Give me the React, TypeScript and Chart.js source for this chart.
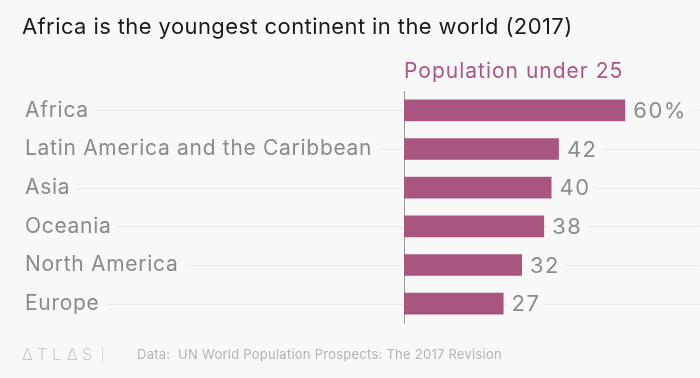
import React, { useEffect, useRef } from "react";
import { Chart, registerables } from "chart.js";

Chart.register(...registerables);

const categories = [
  "Africa",
  "Latin America and the Caribbean",
  "Asia",
  "Oceania",
  "North America",
  "Europe",
];
const values = [60, 42, 40, 38, 32, 27];
const valueLabels = ["60%", "42", "40", "38", "32", "27"];

const TITLE = "Africa is the youngest continent in the world (2017)";
const SERIES_NAME = "Population under 25";
const SOURCE = "Data:  UN World Population Prospects: The 2017 Revision";

const BG = "#f8f8f8";
const BAR = "#a8557f";
const FONT = "Inter, 'Noto Sans', sans-serif";

export default function App() {
  const ref = useRef<HTMLCanvasElement | null>(null);

  useEffect(() => {
    document.body.style.margin = "0";
    document.body.style.background = BG;
    const canvas = ref.current;
    if (!canvas) return;

    const decor = {
      id: "decor",
      beforeDraw(chart: any) {
        const ctx = chart.ctx;
        const area = chart.chartArea;
        ctx.save();
        ctx.fillStyle = BG;
        ctx.fillRect(0, 0, chart.width, chart.height);
        const yScale = chart.scales.y;
        ctx.strokeStyle = "#e9e9e9";
        ctx.lineWidth = 1;
        categories.forEach((_, i) => {
          const y = Math.round(yScale.getPixelForValue(i)) + 0.5;
          ctx.beginPath();
          ctx.moveTo(25, y);
          ctx.lineTo(area.right, y);
          ctx.stroke();
        });
        // category labels with backdrop
        ctx.textBaseline = "middle";
        ctx.textAlign = "left";
        ctx.font = `21px ${FONT}`;
        (ctx as any).letterSpacing = "0.7px";
        categories.forEach((label, i) => {
          const y = yScale.getPixelForValue(i);
          const w = ctx.measureText(label).width;
          ctx.fillStyle = BG;
          ctx.fillRect(22, y - 13, w + 10, 26);
          ctx.fillStyle = "#8a8a8a";
          ctx.fillText(label, 25, y);
        });
        // title
        ctx.fillStyle = "#1a1a1a";
        ctx.font = `22px ${FONT}`;
        (ctx as any).letterSpacing = "0.4px";
        ctx.fillText(TITLE, 22, 27);
        // series name
        ctx.fillStyle = "#a8578a";
        ctx.font = `21px ${FONT}`;
        (ctx as any).letterSpacing = "1px";
        ctx.fillText(SERIES_NAME, area.left, 72);
        // footer
        (ctx as any).letterSpacing = "0px";
        ctx.fillStyle = "#c8c8c8";
        ctx.font = `300 16px ${FONT}`;
        const logo = ["\u0394", "T", "L", "\u0394", "S"];
        let lx = 22;
        logo.forEach((ch) => {
          ctx.fillText(ch, lx, 355);
          lx += 15;
        });
        ctx.fillStyle = "#d6d6d6";
        ctx.fillRect(102, 347, 1, 16);
        ctx.fillStyle = "#b4b4b4";
        ctx.font = `13px ${FONT}`;
        (ctx as any).letterSpacing = "0.25px";
        ctx.fillText(SOURCE, 137, 355);
        ctx.restore();
      },
      afterDatasetsDraw(chart: any) {
        const ctx = chart.ctx;
        const meta = chart.getDatasetMeta(0);
        ctx.save();
        ctx.font = `22px ${FONT}`;
        (ctx as any).letterSpacing = "1.5px";
        ctx.textBaseline = "middle";
        ctx.textAlign = "left";
        meta.data.forEach((bar: any, i: number) => {
          const text = valueLabels[i];
          const x = bar.x + 8;
          const w = ctx.measureText(text).width;
          ctx.fillStyle = BG;
          ctx.fillRect(x - 4, bar.y - 13, w + 8, 26);
          ctx.fillStyle = "#8c8c8c";
          ctx.fillText(text, x, bar.y + 1);
        });
        ctx.restore();
      },
    };

    const chart = new Chart(canvas, {
      type: "bar",
      data: {
        labels: categories,
        datasets: [
          {
            label: SERIES_NAME,
            data: values,
            backgroundColor: BAR,
            borderWidth: 0,
            categoryPercentage: 1,
            barPercentage: 0.56,
          },
        ],
      },
      options: {
        indexAxis: "y",
        animation: false,
        responsive: false,
        maintainAspectRatio: false,
        layout: { padding: { left: 25, top: 91, bottom: 55, right: 1 } },
        plugins: {
          legend: { display: false },
          tooltip: { enabled: false },
          title: { display: false },
        },
        scales: {
          x: { display: false, min: 0, max: 80 },
          y: {
            position: "left",
            grid: { display: false, drawTicks: false },
            border: { display: true, color: "#9a9a9a", width: 1 },
            ticks: { display: false },
            afterFit(scale: any) {
              scale.width = 379;
            },
          },
        },
      },
      plugins: [decor],
    } as any);

    return () => chart.destroy();
  }, []);

  return (
    <div style={{ width: 700, height: 378, background: BG }}>
      <canvas ref={ref} width={700} height={378} style={{ display: "block" }} />
    </div>
  );
}
